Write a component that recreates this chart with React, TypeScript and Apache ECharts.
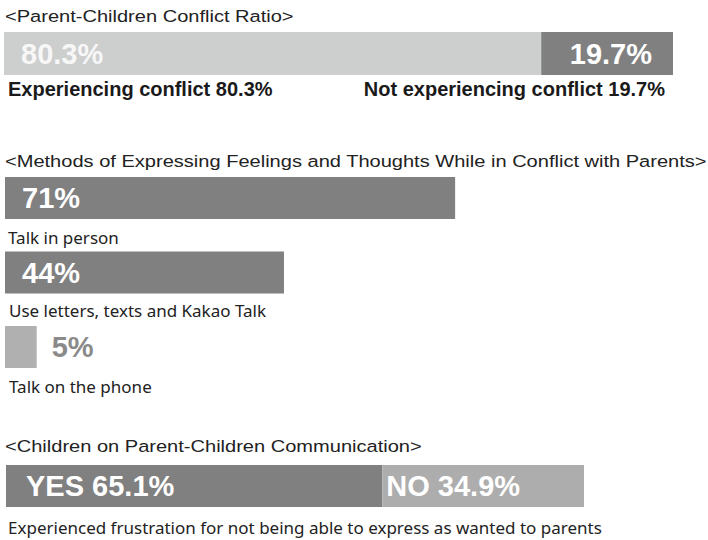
import React, { useEffect, useRef } from "react";
import * as echarts from "echarts";

const titles = [
  "<Parent-Children Conflict Ratio>",
  "<Methods of Expressing Feelings and Thoughts While in Conflict with Parents>",
  "<Children on Parent-Children Communication>",
];

const conflictLabels = ["Experiencing conflict", "Not experiencing conflict"];
const conflictValues = [80.3, 19.7];

const methodCategories = ["Talk in person", "Use letters, texts and Kakao Talk", "Talk on the phone"];
const methodValues = [71, 44, 5];

const frustrationLabels = ["YES", "NO"];
const frustrationValues = [65.1, 34.9];
const frustrationCaption = "Experienced frustration for not being able to express as wanted to parents";

const ARIAL = '"Liberation Sans", Arial, sans-serif';
const GOTHIC = '"Noto Sans", sans-serif';

function textEl(text: string, x: number, y: number, font: string, fill: string, align = "left", scaleX = 1) {
  return {
    type: "text",
    x,
    y,
    scaleX,
    silent: true,
    style: {
      text,
      font,
      fill,
      align,
      textAlign: align,
      verticalAlign: "middle",
      textVerticalAlign: "middle",
    },
  };
}

export default function App() {
  const ref = useRef<HTMLDivElement>(null);

  useEffect(() => {
    if (!ref.current) return;
    const chart = echarts.init(ref.current, undefined, { renderer: "svg" });

    const valueLabel = (color: string, position: string, distance: number, fmt: string) => ({
      show: true,
      position,
      distance,
      formatter: fmt,
      color,
      fontFamily: ARIAL,
      fontWeight: "bold",
      fontSize: 29,
    });

    const hiddenValueAxis = (gridIndex: number) => ({
      type: "value",
      gridIndex,
      min: 0,
      max: 100,
      show: false,
    });

    const option: any = {
      animation: false,
      backgroundColor: "#ffffff",
      grid: [
        { left: 4, top: 32, width: 669, height: 43 },
        { left: 5, top: 160.75, width: 634, height: 223.5 },
        { left: 6, top: 465, width: 578, height: 42 },
      ],
      xAxis: [hiddenValueAxis(0), hiddenValueAxis(1), hiddenValueAxis(2)],
      yAxis: [
        { type: "category", gridIndex: 0, data: ["conflict"], show: false },
        { type: "category", gridIndex: 1, data: methodCategories, inverse: true, show: false },
        { type: "category", gridIndex: 2, data: ["frustration"], show: false },
      ],
      series: [
        {
          type: "bar",
          name: conflictLabels[0],
          xAxisIndex: 0,
          yAxisIndex: 0,
          stack: "c",
          barWidth: "100%",
          data: [conflictValues[0]],
          itemStyle: { color: "#CDCECE" },
          label: valueLabel("#F7F7F7", "insideLeft", 17, "{c}%"),
        },
        {
          type: "bar",
          name: conflictLabels[1],
          xAxisIndex: 0,
          yAxisIndex: 0,
          stack: "c",
          barWidth: "100%",
          data: [conflictValues[1]],
          itemStyle: { color: "#808080" },
          label: valueLabel("#FFFFFF", "insideRight", 21, "{c}%"),
        },
        {
          type: "bar",
          name: "methods",
          xAxisIndex: 1,
          yAxisIndex: 1,
          barWidth: 42,
          data: methodValues.map((v, i) =>
            i < 2
              ? { value: v, itemStyle: { color: "#808080" }, label: valueLabel("#FFFFFF", "insideLeft", 17, "{c}%") }
              : { value: v, itemStyle: { color: "#B0B0B0" }, label: valueLabel("#8A8A8A", "right", 15, "{c}%") }
          ),
        },
        {
          type: "bar",
          name: frustrationLabels[0],
          xAxisIndex: 2,
          yAxisIndex: 2,
          stack: "f",
          barWidth: "100%",
          data: [frustrationValues[0]],
          itemStyle: { color: "#808080" },
          label: valueLabel("#FFFFFF", "insideLeft", 20, "{a} {c}%"),
        },
        {
          type: "bar",
          name: frustrationLabels[1],
          xAxisIndex: 2,
          yAxisIndex: 2,
          stack: "f",
          barWidth: "100%",
          data: [frustrationValues[1]],
          itemStyle: { color: "#ADADAD" },
          label: valueLabel("#FFFFFF", "insideLeft", 4, "{a} {c}%"),
        },
      ],
      graphic: [
        textEl(titles[0], 5, 16, `17px ${ARIAL}`, "#222222", "left", 1.18),
        textEl(titles[1], 5, 161, `17px ${ARIAL}`, "#222222", "left", 1.18),
        textEl(titles[2], 5, 446, `17px ${ARIAL}`, "#222222", "left", 1.18),
        textEl(`${conflictLabels[0]} ${conflictValues[0]}%`, 8, 89, `bold 20px ${ARIAL}`, "#1A1A1A"),
        textEl(`${conflictLabels[1]} ${conflictValues[1]}%`, 665, 89, `bold 20px ${ARIAL}`, "#1A1A1A", "right"),
        textEl(methodCategories[0], 8, 237, `17px ${GOTHIC}`, "#222222"),
        textEl(methodCategories[1], 9, 310, `17px ${GOTHIC}`, "#222222"),
        textEl(methodCategories[2], 9, 386, `17px ${GOTHIC}`, "#222222"),
        textEl(frustrationCaption, 8, 527, `17px ${GOTHIC}`, "#222222"),
      ],
    };

    chart.setOption(option);
    return () => chart.dispose();
  }, []);

  return (
    <div
      ref={ref}
      style={{ position: "absolute", left: 0, top: 0, width: 708, height: 540, background: "#fff" }}
    />
  );
}
